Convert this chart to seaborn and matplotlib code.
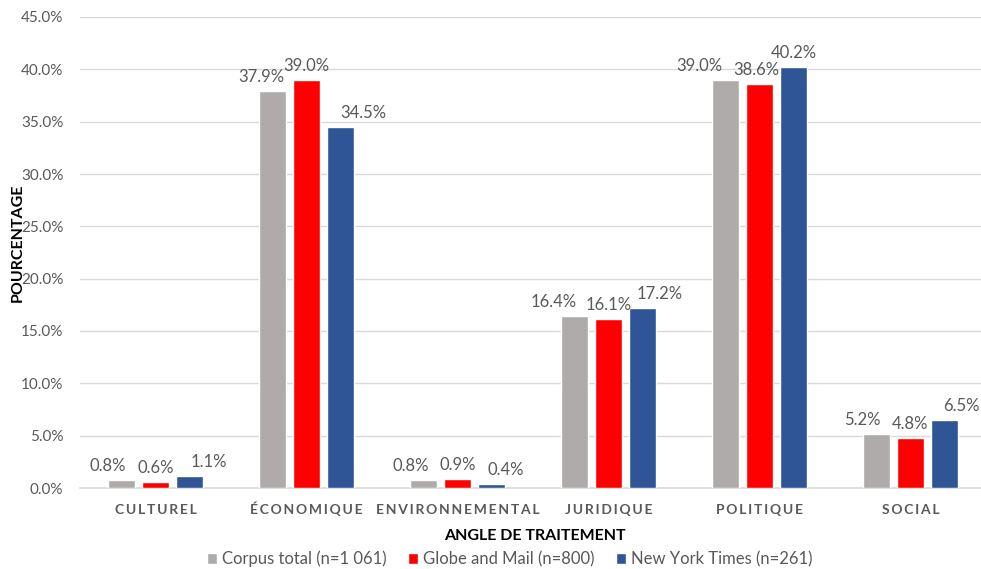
import matplotlib
matplotlib.use("Agg")
import matplotlib.pyplot as plt
from matplotlib.ticker import StrMethodFormatter
from matplotlib.transforms import offset_copy
import seaborn as sns
import pandas as pd

categories = ["CULTUREL", "ÉCONOMIQUE", "ENVIRONNEMENTAL", "JURIDIQUE", "POLITIQUE", "SOCIAL"]
series_names = ["Corpus total (n=1 061)", "Globe and Mail (n=800)", "New York Times (n=261)"]
corpus_total = [0.8, 37.9, 0.8, 16.4, 39.0, 5.2]
globe_and_mail = [0.6, 39.0, 0.9, 16.1, 38.6, 4.8]
new_york_times = [1.1, 34.5, 0.4, 17.2, 40.2, 6.5]
y_ticks = [0, 5, 10, 15, 20, 25, 30, 35, 40, 45]

colors = ["#AFABAB", "#FF0000", "#2F5597"]
text_gray = "#595959"
grid_gray = "#D9D9D9"

# horizontal nudges (pixels) that keep neighbouring value labels apart
label_shift = [
    [-14, -11, -13, -21, -26, -14],
    [0, 0, 0, 0, -3, 0],
    [19, 23, 14, 17, 0, 17],
]

rows = []
for name, values in zip(series_names, [corpus_total, globe_and_mail, new_york_times]):
    for cat, v in zip(categories, values):
        rows.append({"angle": cat, "pct": v, "source": name})
df = pd.DataFrame(rows)

sns.set_theme(style="white")
plt.rcParams["font.family"] = ["Lato", "DejaVu Sans"]

W, H = 981, 569
fig = plt.figure(figsize=(W / 100, H / 100), dpi=100)
ax = fig.add_axes([80 / W, 1 - 488 / H, 906 / W, 471 / H])

sns.barplot(data=df, x="angle", y="pct", hue="source", order=categories,
            hue_order=series_names, palette=colors, width=0.675, gap=0.23,
            saturation=1, ax=ax, zorder=3)

ax.set_ylim(0, 45)
ax.set_yticks(y_ticks)
ax.yaxis.set_major_formatter(StrMethodFormatter("{x:.1f}%"))
ax.grid(axis="y", color=grid_gray, linewidth=1, zorder=0)
ax.set_axisbelow(True)
for side in ["top", "right", "left"]:
    ax.spines[side].set_visible(False)
ax.spines["bottom"].set_color(grid_gray)
ax.spines["bottom"].set_linewidth(1.2)
ax.tick_params(axis="both", length=0, colors=text_gray)
ax.tick_params(axis="y", labelsize=11, pad=12)

# category labels, letter-spaced and aligned on a common baseline
ax.set_xticks(range(len(categories)))
ax.set_xticklabels([])
for i, cat in enumerate(categories):
    ax.text(i, -0.055, "\u2009".join(cat), transform=ax.get_xaxis_transform(),
            ha="center", va="baseline", fontsize=10, fontweight="bold",
            color=text_gray)

# value labels above each bar
for container, shifts in zip(ax.containers, label_shift):
    for bar, dx in zip(container, shifts):
        h = bar.get_height()
        tr = offset_copy(ax.transData, fig=fig, x=dx, y=9, units="dots")
        ax.text(bar.get_x() + bar.get_width() / 2, h, f"{h:.1f}%", transform=tr,
                ha="center", va="baseline", fontsize=12, color=text_gray)

ax.set_xlabel("")
ax.set_ylabel("")
fig.text(535 / W, 1 - 540 / H, "ANGLE DE TRAITEMENT", ha="center", va="baseline",
         fontsize=11.5, fontweight="bold", color="black")
fig.text(18 / W, 1 - 243 / H, "POURCENTAGE", ha="center", va="center",
         rotation=90, fontsize=11.5, fontweight="bold", color="black")

sns.move_legend(ax, "center", bbox_to_anchor=(510 / W, 1 - 559 / H),
                bbox_transform=fig.transFigure, ncol=3,
                frameon=False, title=None, fontsize=12, handlelength=0.6,
                handleheight=0.6, handletextpad=0.3, columnspacing=1.3,
                labelcolor=text_gray)

fig.savefig("out.png", dpi=100)
